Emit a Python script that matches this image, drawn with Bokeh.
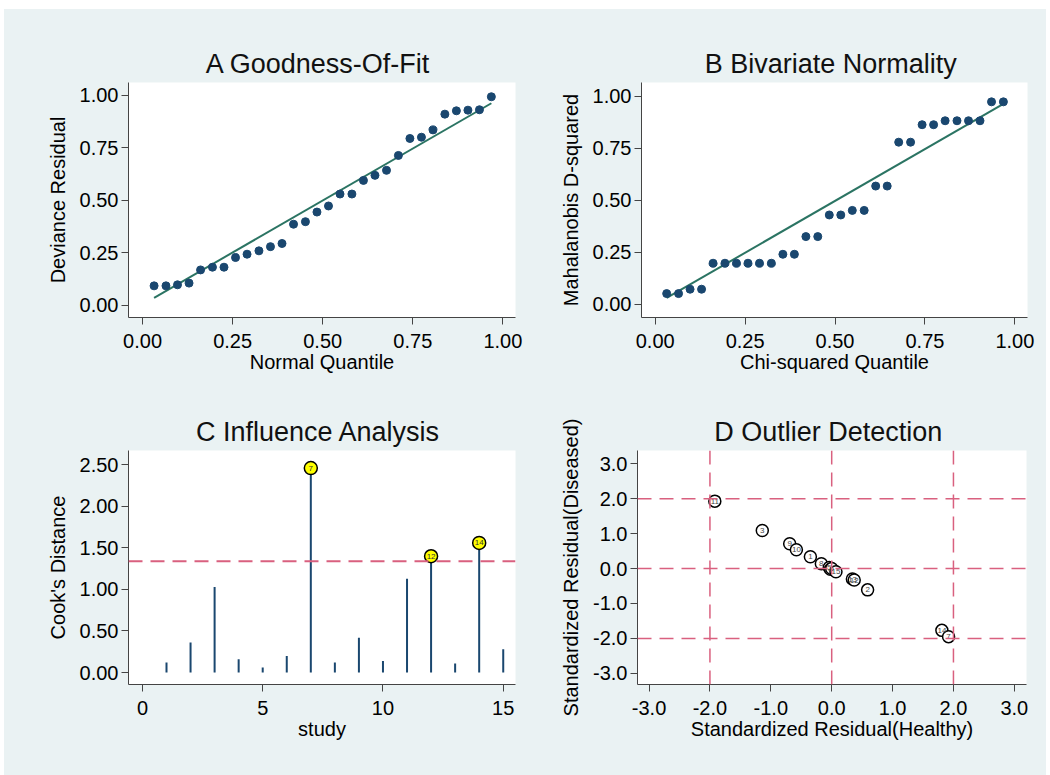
from bokeh.plotting import figure
from bokeh.layouts import column, row
from bokeh.models import Range1d, FixedTicker, PrintfTickFormatter, Spacer, Span
from bokeh.embed import file_html
from bokeh.resources import INLINE
from bokeh.core.properties import value

# ---------------- data ----------------
# A: Goodness-of-fit (normal quantile vs deviance residual)
a_quantile = [0.032, 0.065, 0.097, 0.129, 0.161, 0.194, 0.226, 0.258, 0.290, 0.323,
              0.355, 0.387, 0.419, 0.452, 0.484, 0.516, 0.548, 0.581, 0.613, 0.645,
              0.677, 0.710, 0.742, 0.774, 0.806, 0.839, 0.871, 0.903, 0.935, 0.968]
a_residual = [0.092, 0.092, 0.097, 0.105, 0.168, 0.181, 0.181, 0.227, 0.243, 0.259,
              0.279, 0.294, 0.386, 0.398, 0.444, 0.473, 0.530, 0.530, 0.595, 0.619,
              0.643, 0.714, 0.795, 0.801, 0.836, 0.911, 0.927, 0.930, 0.932, 0.994]
a_fit_x = [0.032, 0.968]
a_fit_y = [0.035, 0.963]

# B: Bivariate normality (chi-squared quantile vs Mahalanobis D-squared)
b_quantile = a_quantile
b_dsq = [0.051, 0.051, 0.072, 0.072, 0.197, 0.197, 0.197, 0.197, 0.197, 0.197,
         0.240, 0.240, 0.325, 0.325, 0.429, 0.429, 0.451, 0.451, 0.568, 0.568,
         0.779, 0.779, 0.863, 0.863, 0.882, 0.882, 0.882, 0.882, 0.973, 0.973]
b_fit_x = [0.032, 0.968]
b_fit_y = [0.030, 0.963]

# C: Influence analysis (Cook's distance by study)
c_study = [1, 2, 3, 4, 5, 6, 7, 8, 9, 10, 11, 12, 13, 14, 15]
c_cooks = [0.12, 0.36, 1.03, 0.16, 0.06, 0.20, 2.46, 0.12, 0.42, 0.14, 1.13, 1.40, 0.11, 1.56, 0.28]
c_threshold = 1.34

# D: Outlier detection (standardized residuals)
d_label = ["11", "3", "9", "10", "1", "8", "5", "4", "6", "15", "13", "12", "2", "14", "7"]
d_healthy = [-1.92, -1.14, -0.69, -0.58, -0.35, -0.17, -0.04, -0.02, 0.00, 0.07, 0.34, 0.37, 0.59, 1.81, 1.92]
d_diseased = [1.93, 1.09, 0.71, 0.54, 0.34, 0.14, 0.03, -0.02, 0.00, -0.09, -0.30, -0.33, -0.61, -1.77, -1.95]
d_refs = [-2.0, 0.0, 2.0]

# ---------------- styling ----------------
BG = "#eaf2f3"
NAVY = "#1a476f"
GREEN = "#2b7463"
PINK = "#d9607f"
FONT = "Liberation Sans"


def make_fig(title, xr, yr, left, right, top, bottom, height):
    p = figure(width=521, height=height, output_backend="svg", toolbar_location=None,
               x_range=Range1d(*xr), y_range=Range1d(*yr),
               min_border_left=left, min_border_right=right,
               min_border_top=top, min_border_bottom=bottom,
               styles={"background-color": BG})
    p.background_fill_color = "white"
    p.border_fill_color = BG
    p.outline_line_color = None
    p.grid.visible = False
    p.title.text = title
    p.title.align = "center"
    p.title.text_font = FONT
    p.title.text_font_size = "27px"
    p.title.text_font_style = "normal"
    p.title.text_color = "#111111"
    p.title.standoff = 7
    for ax in (p.xaxis[0], p.yaxis[0]):
        ax.axis_line_color = "#444444"
        ax.major_tick_line_color = "#444444"
        ax.major_tick_out = 7
        ax.major_tick_in = 0
        ax.minor_tick_line_color = None
        ax.major_label_text_font = FONT
        ax.major_label_text_font_size = "20px"
        ax.major_label_text_color = "#000000"
        ax.axis_label_text_font = FONT
        ax.axis_label_text_font_size = "20px"
        ax.axis_label_text_font_style = "normal"
        ax.axis_label_text_color = "#000000"
    p.xaxis.major_label_standoff = 9
    p.xaxis.axis_label_standoff = 0
    p.yaxis.major_label_standoff = 3
    p.yaxis.axis_label_standoff = 8
    return p


# ---- A ----
pa = make_fig("A  Goodness-Of-Fit", (-0.039, 1.035), (-0.059, 1.062), 124, 10, 73, 75, 383)
pa.line(a_fit_x, a_fit_y, line_color=GREEN, line_width=2)
pa.scatter(a_quantile, a_residual, size=8, fill_color=NAVY, line_color=NAVY)
pa.xaxis.ticker = FixedTicker(ticks=[0, 0.25, 0.5, 0.75, 1.0])
pa.yaxis.ticker = FixedTicker(ticks=[0, 0.25, 0.5, 0.75, 1.0])
pa.xaxis.formatter = PrintfTickFormatter(format="%.2f")
pa.yaxis.formatter = PrintfTickFormatter(format="%.2f")
pa.xaxis.axis_label = "Normal Quantile"
pa.yaxis.axis_label = "Deviance Residual"

# ---- B ----
pb = make_fig("B  Bivariate Normality", (-0.038, 1.035), (-0.064, 1.066), 116, 19, 73, 75, 383)
pb.line(b_fit_x, b_fit_y, line_color=GREEN, line_width=2)
pb.scatter(b_quantile, b_dsq, size=8, fill_color=NAVY, line_color=NAVY)
pb.xaxis.ticker = FixedTicker(ticks=[0, 0.25, 0.5, 0.75, 1.0])
pb.yaxis.ticker = FixedTicker(ticks=[0, 0.25, 0.5, 0.75, 1.0])
pb.xaxis.formatter = PrintfTickFormatter(format="%.2f")
pb.yaxis.formatter = PrintfTickFormatter(format="%.2f")
pb.xaxis.axis_label = "Chi-squared Quantile"
pb.yaxis.axis_label = "Mahalanobis D-squared"

# ---- C ----
pc = make_fig("C  Influence Analysis", (-0.58, 15.51), (-0.144, 2.672), 124, 10, 58, 91, 383)
pc.add_layout(Span(location=c_threshold, dimension="width", line_color=PINK,
                   line_dash="14 8", line_width=2))
pc.segment(x0=c_study, y0=[0] * len(c_study), x1=c_study, y1=c_cooks,
           line_color=NAVY, line_width=2)
hi_x = [s for s, c in zip(c_study, c_cooks) if c > c_threshold]
hi_y = [c for c in c_cooks if c > c_threshold]
hi_t = [str(s) for s in hi_x]
pc.scatter(hi_x, hi_y, size=13, fill_color="#ffff00", line_color="black", line_width=1.5)
pc.text(hi_x, hi_y, text=hi_t, text_align="center", text_baseline="middle",
        text_font=value(FONT), text_font_size="8px", text_color="#333333")
pc.xaxis.ticker = FixedTicker(ticks=[0, 5, 10, 15])
pc.yaxis.ticker = FixedTicker(ticks=[0, 0.5, 1.0, 1.5, 2.0, 2.5])
pc.yaxis.formatter = PrintfTickFormatter(format="%.2f")
pc.xaxis.axis_label = "study"
pc.yaxis.axis_label = "Cook's Distance"

# ---- D ----
pd_ = make_fig("D  Outlier Detection", (-3.19, 3.2), (-3.32, 3.38), 112, 20, 58, 91, 383)
for r in d_refs:
    pd_.add_layout(Span(location=r, dimension="width", line_color=PINK,
                        line_dash="14 8", line_width=1.5))
    pd_.add_layout(Span(location=r, dimension="height", line_color=PINK,
                        line_dash="14 8", line_width=1.5))
pd_.scatter(d_healthy, d_diseased, size=12, fill_color="white", line_color="black", line_width=1.5)
pd_.text(d_healthy, d_diseased, text=d_label, text_align="center", text_baseline="middle",
         text_font=value(FONT), text_font_size="8px", text_color="#444444")
pd_.xaxis.ticker = FixedTicker(ticks=[-3, -2, -1, 0, 1, 2, 3])
pd_.yaxis.ticker = FixedTicker(ticks=[-3, -2, -1, 0, 1, 2, 3])
pd_.xaxis.formatter = PrintfTickFormatter(format="%.1f")
pd_.yaxis.formatter = PrintfTickFormatter(format="%.1f")
pd_.xaxis.axis_label = "Standardized Residual(Healthy)"
pd_.yaxis.axis_label = "Standardized Residual(Diseased)"

row_style = {"background-color": BG}
layout = column(
    Spacer(height=9, width=1046),
    row(Spacer(width=4, height=383, styles={"background-color": "white"}), pa, pb,
        styles=row_style),
    row(Spacer(width=4, height=383, styles={"background-color": "white"}), pc, pd_,
        styles=row_style),
)

with open("out.html", "w") as f:
    f.write(file_html(layout, INLINE))
